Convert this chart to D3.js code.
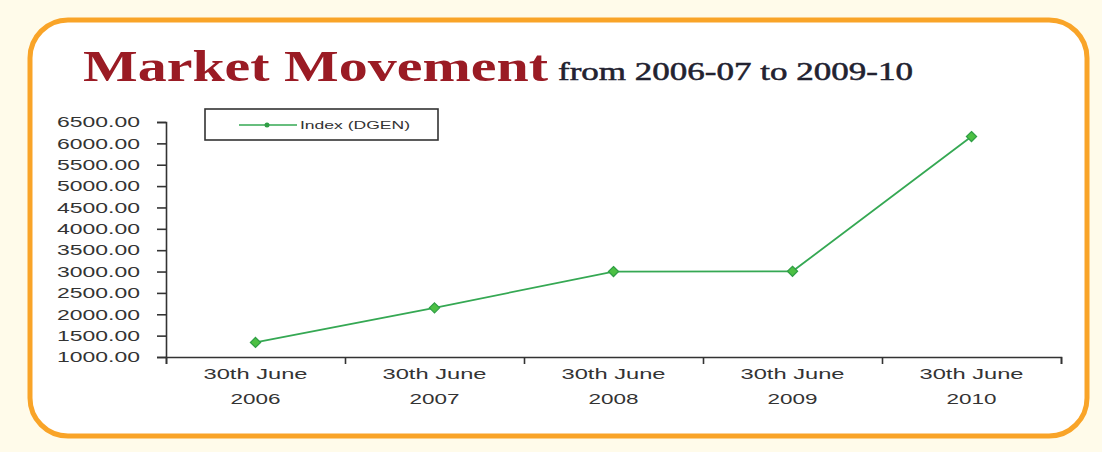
<!DOCTYPE html>
<html>
<head>
<meta charset="utf-8">
<script src="https://cdn.jsdelivr.net/npm/d3@7"></script>
<style>
  body { margin: 0; background: #fffbea; }
  svg { display: block; }
</style>
</head>
<body>
<svg id="drawing_region"></svg>
<script>
// data
const years = ["2006", "2007", "2008", "2009", "2010"];
const dayLabel = "30th June";
const dgen = [1340, 2150, 3000, 3005, 6160];
const yTicks = [1000, 1500, 2000, 2500, 3000, 3500, 4000, 4500, 5000, 5500, 6000, 6500];
const seriesName = "Index (DGEN)";

const data = years.map((y, i) => ({ year: y, value: dgen[i] }));

const config = {
    width: 1102,
    height: 452,
    margin: { top: 122, right: 41, bottom: 95, left: 166 }
};

const svg = d3.select('#drawing_region')
    .attr('width', config.width)
    .attr('height', config.height);

// panel with rounded orange border
svg.append('rect')
    .attr('width', config.width).attr('height', config.height)
    .attr('fill', '#fffbea');
svg.append('rect')
    .attr('x', 30).attr('y', 20)
    .attr('width', 1057).attr('height', 416)
    .attr('rx', 38).attr('ry', 38)
    .attr('fill', '#ffffff')
    .attr('stroke', '#f9a428')
    .attr('stroke-width', 5);

// title
svg.append('text')
    .attr('x', 83).attr('y', 81)
    .attr('font-family', 'Liberation Serif, serif')
    .attr('font-weight', 'bold')
    .attr('font-size', '44px')
    .attr('fill', '#9a1b24')
    .attr('textLength', 465)
    .attr('lengthAdjust', 'spacingAndGlyphs')
    .text('Market Movement');
svg.append('text')
    .attr('x', 558).attr('y', 80)
    .attr('font-family', 'Liberation Serif, serif')
    .attr('font-weight', 'normal')
    .attr('font-size', '25px')
    .attr('fill', '#222230')
    .attr('stroke', '#222230')
    .attr('stroke-width', 0.5)
    .attr('textLength', 355)
    .attr('lengthAdjust', 'spacingAndGlyphs')
    .text('from 2006-07 to 2009-10');

const innerW = config.width - config.margin.left - config.margin.right;
const innerH = config.height - config.margin.top - config.margin.bottom;

const chart = svg.append('g')
    .attr('transform', `translate(${config.margin.left}, ${config.margin.top})`);

const x = d3.scaleBand().domain(years).range([0, innerW]).padding(0);
const xEdge = d3.scaleLinear().domain([0, years.length]).range([0, innerW]);
const y = d3.scaleLinear().domain([1000, 6500]).range([innerH, 0]);

// y axis
const yAxis = chart.append('g')
    .call(d3.axisLeft(y).tickValues(yTicks).tickSize(9).tickPadding(17)
        .tickFormat(d3.format('.2f')));
yAxis.selectAll('text')
    .attr('font-family', 'Liberation Sans, Arial, sans-serif')
    .attr('font-size', '15px')
    .attr('fill', '#333')
    .attr('textLength', 83)
    .attr('lengthAdjust', 'spacingAndGlyphs');

// x axis: ticks at category boundaries
const xAxis = chart.append('g')
    .attr('transform', `translate(0, ${innerH})`)
    .call(d3.axisBottom(xEdge).tickValues(d3.range(0, years.length + 1)).tickSize(7).tickFormat(''));

// x labels, two lines
const xLab = chart.append('g')
    .attr('transform', `translate(0, ${innerH})`)
    .call(d3.axisBottom(x).tickSize(0).tickFormat(''));
xLab.select('.domain').remove();
const lab = xLab.selectAll('.tick');
lab.append('text')
    .attr('y', 22)
    .attr('textLength', 104)
    .text(dayLabel);
lab.append('text')
    .attr('y', 47)
    .attr('textLength', 50)
    .text(d => d);
lab.selectAll('text')
    .attr('text-anchor', 'middle')
    .attr('lengthAdjust', 'spacingAndGlyphs')
    .attr('font-family', 'Liberation Sans, Arial, sans-serif')
    .attr('font-size', '15px')
    .attr('fill', '#333');

[yAxis, xAxis].forEach(a => {
    a.selectAll('path, line').attr('stroke', '#333').attr('stroke-width', 1.6);
});

// line
const line = d3.line()
    .x(d => x(d.year) + x.bandwidth() / 2)
    .y(d => y(d.value));

chart.append('path')
    .datum(data)
    .attr('d', line)
    .attr('fill', 'none')
    .attr('stroke', '#35a853')
    .attr('stroke-width', 1.8);

const diamond = d3.symbol().type(d3.symbolDiamond).size(40);
chart.selectAll('.marker')
    .data(data)
    .enter()
    .append('path')
    .attr('class', 'marker')
    .attr('d', diamond)
    .attr('transform', d => `translate(${x(d.year) + x.bandwidth() / 2}, ${y(d.value)}) scale(1.5, 0.85)`)
    .attr('fill', '#4cc043')
    .attr('stroke', '#2f9e45')
    .attr('stroke-width', 1);

// legend
const legend = svg.append('g').attr('transform', 'translate(205, 109)');
legend.append('rect')
    .attr('width', 233).attr('height', 31)
    .attr('fill', '#fff')
    .attr('stroke', '#333')
    .attr('stroke-width', 1.6);
legend.append('line')
    .attr('x1', 34).attr('x2', 92).attr('y1', 16).attr('y2', 16)
    .attr('stroke', '#35a853').attr('stroke-width', 1.6);
legend.append('circle')
    .attr('cx', 62).attr('cy', 16).attr('r', 2.5)
    .attr('fill', '#2f9e45');
legend.append('text')
    .attr('x', 95).attr('y', 20)
    .attr('font-family', 'Liberation Sans, Arial, sans-serif')
    .attr('font-size', '11px')
    .attr('fill', '#333')
    .attr('textLength', 110)
    .attr('lengthAdjust', 'spacingAndGlyphs')
    .text(seriesName);
</script>
</body>
</html>
